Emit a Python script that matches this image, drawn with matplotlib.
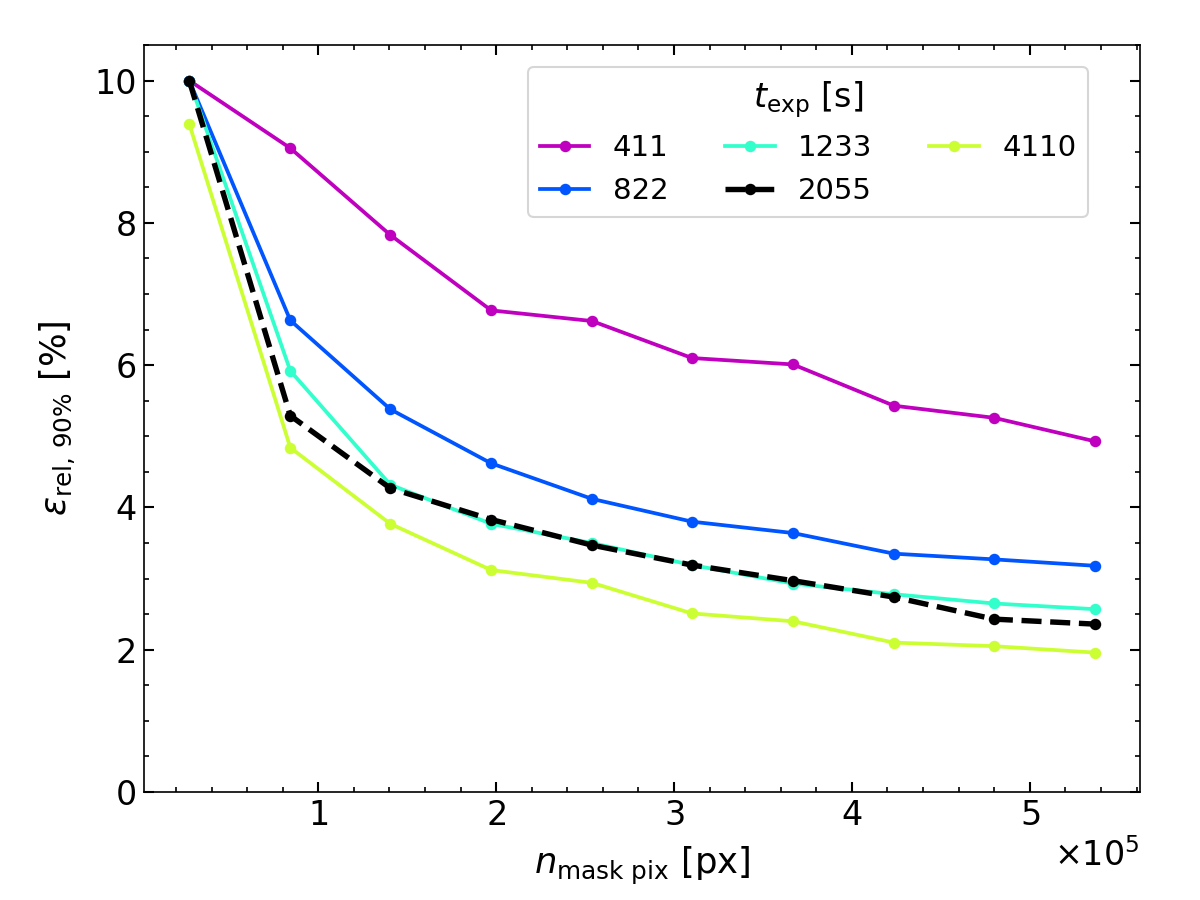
import matplotlib.pyplot as plt
from matplotlib.ticker import MultipleLocator, ScalarFormatter

# number of masked pixels
n_mask = [27500, 84300, 140500, 197200, 253900, 310100, 366900, 423600, 479800, 536500]

t_exp = ['411', '822', '1233', '2055', '4110']

eps_411 = [10.0, 9.05, 7.83, 6.77, 6.62, 6.10, 6.01, 5.43, 5.26, 4.93]
eps_822 = [10.0, 6.63, 5.38, 4.62, 4.12, 3.80, 3.64, 3.35, 3.27, 3.18]
eps_1233 = [10.0, 5.92, 4.32, 3.77, 3.50, 3.19, 2.93, 2.78, 2.65, 2.57]
eps_2055 = [10.0, 5.29, 4.27, 3.83, 3.47, 3.19, 2.97, 2.74, 2.43, 2.36]
eps_4110 = [9.39, 4.84, 3.77, 3.12, 2.94, 2.51, 2.40, 2.10, 2.05, 1.96]

fig = plt.figure(figsize=(8, 6), dpi=150)
ax = fig.add_subplot(111)
fig.subplots_adjust(left=0.12, right=0.95, top=0.95, bottom=0.12)

ax.plot(n_mask, eps_411, 'o-', color='#bf00bf', lw=1.8, ms=4.5, label=t_exp[0])
ax.plot(n_mask, eps_822, 'o-', color='#0055ff', lw=1.8, ms=4.5, label=t_exp[1])
ax.plot(n_mask, eps_1233, 'o-', color='#33ffcc', lw=1.8, ms=4.5, label=t_exp[2])
ax.plot(n_mask, eps_2055, 'o--', color='k', lw=2.6, ms=4.5, label=t_exp[3])
ax.plot(n_mask, eps_4110, 'o-', color='#ccff33', lw=1.8, ms=4.5, label=t_exp[4])

ax.set_ylim(0, 10.5)

fmt = ScalarFormatter(useMathText=True)
fmt.set_powerlimits((0, 0))
ax.xaxis.set_major_formatter(fmt)
ax.xaxis.get_offset_text().set_fontsize(16)
ax.xaxis.set_major_locator(MultipleLocator(100000))
ax.xaxis.set_minor_locator(MultipleLocator(20000))
ax.yaxis.set_major_locator(MultipleLocator(2))
ax.yaxis.set_minor_locator(MultipleLocator(0.5))

ax.tick_params(which='both', direction='in', top=True, right=True, labelsize=16)
ax.tick_params(which='major', length=5, width=1)
ax.tick_params(which='minor', length=2.5, width=0.8)

ax.set_xlabel(r'$n_{\rm mask\ pix}$ [px]', fontsize=17, labelpad=6)
ax.set_ylabel(r'$\varepsilon_{\rm rel,\,90\%}$ [%]', fontsize=17, labelpad=8)

leg = ax.legend(title=r'$t_{\rm exp}$ [s]', ncol=3, loc='upper right', fontsize=14,
                title_fontsize=16, bbox_to_anchor=(0.948, 0.97), borderaxespad=0,
                handlelength=1.7, handletextpad=0.8, columnspacing=1.95)

plt.savefig('out.png', dpi=150)
